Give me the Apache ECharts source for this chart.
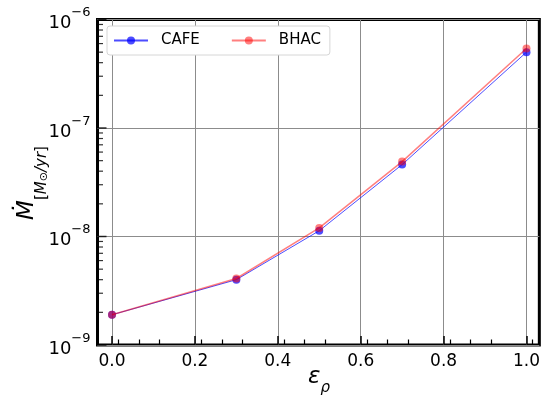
<!DOCTYPE html>
<html>
<head>
<meta charset="utf-8">
<script src="https://cdn.jsdelivr.net/npm/echarts@6/dist/echarts.min.js"></script>
<style>
  html, body { margin: 0; padding: 0; background: #fff; }
  #chart { width: 543px; height: 397px; }
</style>
</head>
<body>
<div id="chart"></div>
<script>
// Density-floor parameter and accretion rates of the two codes
const epsRho = [0.0, 0.3, 0.5, 0.7, 1.0];
const cafeRate = [1.9e-9, 4.0e-9, 1.13e-8, 4.6e-8, 5.0e-7];
const bhacRate = [1.9e-9, 4.1e-9, 1.2e-8, 4.9e-8, 5.4e-7];
const seriesNames = ['CAFE', 'BHAC'];

// Axis ranges
const xRange = [-0.035, 1.031];
const yRange = [1e-9, 1e-6];
const xTickStep = 0.2;
const xTickValues = [0.0, 0.2, 0.4, 0.6, 0.8, 1.0];

// Minor ticks of the log axis: 2..9 within each decade
const yMinorTicks = [];
for (let e = -9; e < -6; e++) {
  for (let m = 2; m <= 9; m++) yMinorTicks.push(m * Math.pow(10, e));
}
// Major ticks of the log axis: one per decade
const yMajorTicks = [1e-9, 1e-8, 1e-7, 1e-6];

const FONT = 'DejaVu Sans';
const chart = echarts.init(document.getElementById('chart'), null, { renderer: 'canvas' });

const pairs = (xs, ys) => xs.map((x, i) => [x, ys[i]]);

// Inward tick marks on the left spine, placed through the axes
const spineTicks = (values, len, width) => ({
  type: 'scatter',
  data: values.map(v => [xRange[0], v]),
  symbol: 'rect',
  symbolSize: [len, width],
  symbolOffset: [len / 2, 0],
  itemStyle: { color: '#000' },
  silent: true,
  clip: false,
  z: 10
});

chart.setOption({
  animation: false,
  backgroundColor: '#fff',
  textStyle: { fontFamily: FONT },
  grid: {
    left: 97.5, right: 2.5, top: 19.5, bottom: 52,
    show: true, borderColor: '#000', borderWidth: 3, backgroundColor: 'transparent'
  },
  legend: {
    data: seriesNames,
    left: 107, top: 26,
    orient: 'horizontal',
    itemWidth: 34, itemHeight: 10, itemGap: 31,
    padding: [7, 9, 7, 6],
    backgroundColor: '#fff',
    borderColor: '#d6d6d6', borderWidth: 1, borderRadius: 3,
    textStyle: { fontFamily: FONT, fontSize: 15, color: '#000', padding: [0, 0, 0, 8] }
  },
  xAxis: {
    type: 'value',
    min: xRange[0], max: xRange[1],
    interval: xTickStep,
    axisLine: { show: false },
    axisTick: { show: true, inside: true, length: 9, lineStyle: { color: '#000', width: 1.5 },
      customValues: xTickValues },
    minorTick: { show: true, splitNumber: 4, length: 5.5, lineStyle: { color: '#000', width: 1.2 } },
    axisLabel: {
      fontFamily: FONT, fontSize: 17, color: '#000', margin: 8,
      customValues: xTickValues,
      formatter: v => v.toFixed(1)
    },
    splitLine: { show: true, lineStyle: { color: '#8c8c8c', width: 1 } }
  },
  yAxis: {
    type: 'log',
    logBase: 10,
    min: yRange[0], max: yRange[1],
    axisLine: { show: false },
    axisTick: { show: false },
    axisLabel: {
      margin: 7,
      formatter: v => '{b|10}{s|\u2212' + Math.abs(Math.round(Math.log10(v))) + '}',
      rich: {
        b: { fontFamily: FONT, fontSize: 18, color: '#000', lineHeight: 26, verticalAlign: 'bottom' },
        s: { fontFamily: FONT, fontSize: 13, color: '#000', lineHeight: 26, verticalAlign: 'top', padding: [0, 0, 8, 0] }
      }
    },
    splitLine: { show: true, lineStyle: { color: '#8c8c8c', width: 1 } }
  },
  series: [
    {
      name: 'CAFE', type: 'line',
      data: pairs(epsRho, cafeRate),
      symbol: 'circle', symbolSize: 8,
      lineStyle: { color: 'rgba(0,0,255,0.7)', width: 1 },
      itemStyle: { color: 'rgba(0,0,255,0.7)' },
      z: 3
    },
    {
      name: 'BHAC', type: 'line',
      data: pairs(epsRho, bhacRate),
      symbol: 'circle', symbolSize: 8,
      lineStyle: { color: 'rgba(255,0,0,0.5)', width: 1.5 },
      itemStyle: { color: 'rgba(255,0,0,0.5)' },
      z: 4
    },
    Object.assign({ name: 'yMajorTicks' }, spineTicks(yMajorTicks, 9, 1.5)),
    Object.assign({ name: 'yMinorTicks' }, spineTicks(yMinorTicks, 5.5, 1.2))
  ],
  graphic: [
    {
      type: 'text', x: 33, y: 183, rotation: Math.PI / 2,
      style: {
        text: '{m|\u1E40}{s|[}{si|M}{o|\u2299}{si|/yr}{s|]}',
        align: 'center', verticalAlign: 'middle',
        rich: {
          m: { fontFamily: FONT, fontStyle: 'italic', fontSize: 23, lineHeight: 34, verticalAlign: 'top', fill: '#000' },
          s: { fontFamily: FONT, fontSize: 15, lineHeight: 34, verticalAlign: 'bottom', fill: '#000' },
          si: { fontFamily: FONT, fontStyle: 'italic', fontSize: 15, lineHeight: 34, verticalAlign: 'bottom', fill: '#000' },
          o: { fontFamily: FONT, fontSize: 11, lineHeight: 34, verticalAlign: 'bottom', fill: '#000' }
        }
      }
    },
    {
      type: 'text', x: 319, y: 381,
      style: {
        text: '{e|\u03B5}{r|\u03C1}',
        align: 'center', verticalAlign: 'middle',
        rich: {
          e: { fontFamily: FONT, fontStyle: 'italic', fontSize: 23, lineHeight: 30, verticalAlign: 'top', fill: '#000' },
          r: { fontFamily: FONT, fontStyle: 'italic', fontSize: 15, lineHeight: 30, verticalAlign: 'bottom', fill: '#000' }
        }
      }
    }
  ]
});
</script>
</body>
</html>
